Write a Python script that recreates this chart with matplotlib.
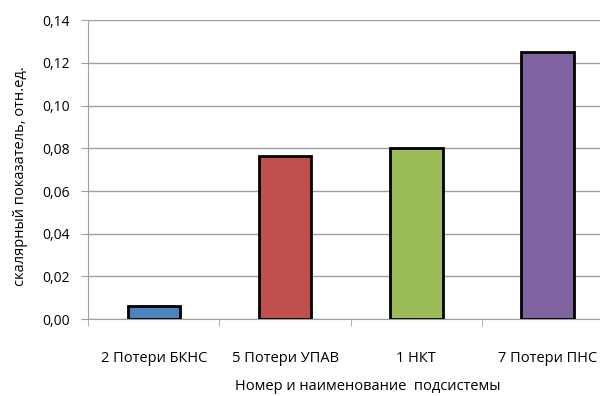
import numpy as np
import matplotlib
matplotlib.use("Agg")
import matplotlib.pyplot as plt
from matplotlib.ticker import FuncFormatter, FixedLocator

categories = ["2 Потери БКНС", "5 Потери УПАВ", "1 НКТ", "7 Потери ПНС"]
values = [0.006, 0.0765, 0.080, 0.125]
colors = ["#4f81bd", "#c0504d", "#9bbb59", "#8064a2"]

plt.rcParams['font.family'] = ['Open Sans', 'DejaVu Sans']

fig = plt.figure(figsize=(6, 3.96), dpi=100)
# the plot area runs past the right edge of the picture
ax = fig.add_axes([0.147, 0.194, 0.875, 0.755])

x = np.arange(len(categories))
ax.bar(x, values, width=0.4, color=colors, edgecolor="black", linewidth=2, zorder=3)

ax.set_xlim(-0.5, len(categories) - 0.5)
ax.set_ylim(0, 0.14)
ax.set_yticks(np.arange(0, 0.141, 0.02))
ax.yaxis.set_major_formatter(FuncFormatter(lambda v, p: f"{v:.2f}".replace(".", ",")))
ax.grid(axis="y", color="#a0a0a0", linewidth=1, zorder=0)

ax.set_xticks(x)
ax.set_xticklabels(categories)
ax.tick_params(axis="x", length=0, pad=23, labelsize=10.5)
ax.xaxis.set_minor_locator(FixedLocator(np.arange(-0.5, len(categories), 1.0)))
ax.tick_params(axis="x", which="minor", length=5, color="#a0a0a0")
ax.tick_params(axis="y", length=5, color="#a0a0a0", labelsize=10, pad=8)

for s in ["top", "right"]:
    ax.spines[s].set_visible(False)
ax.spines["left"].set_color("#a0a0a0")
ax.spines["bottom"].set_color("#a0a0a0")

ax.set_ylabel("скалярный показатель, отн.ед.", fontsize=10.5)
ax.yaxis.set_label_coords(-0.115, 0.48)
fig.text(0.613, 1 - 386 / 396, "Номер и наименование  подсистемы",
         fontsize=10.5, ha="center", va="center")

fig.savefig("out.png", dpi=100)
